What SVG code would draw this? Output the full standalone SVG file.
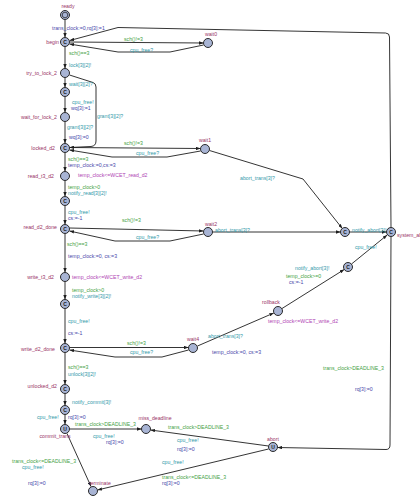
<svg xmlns="http://www.w3.org/2000/svg" width="420" height="502" viewBox="0 0 420 502">
<style>
  text { font-family: "Liberation Sans", Arial, sans-serif; font-size: 5.2px; }
  .nm { fill: #993366; }
  .g { fill: #3f9f3f; }
  .s { fill: #3399aa; }
  .a { fill: #4848aa; }
  .inv { fill: #b044b4; }
  .loc { fill: #a8b4d4; stroke: #2a2a2a; stroke-width: 1; }
  .in { fill: none; stroke: #2a2a2a; stroke-width: 0.8; }
  .k { font-size: 5px; fill: #1a1a1a; text-anchor: middle; font-weight: bold; }
  .e { fill: none; stroke: #1e1e1e; stroke-width: 0.9; marker-end: url(#ah); }
  .r { text-anchor: end; }
  .c { text-anchor: middle; }
</style>
<defs>
  <marker id="ah" viewBox="0 0 8 6" refX="8" refY="3" markerWidth="4.5" markerHeight="3.4" orient="auto" markerUnits="userSpaceOnUse">
    <path d="M0,0 L8,3 L0,6 z" fill="#1e1e1e"/>
  </marker>
</defs>
<rect width="420" height="502" fill="#ffffff"/>

<g id="edges">
  <path class="e" d="M65,19.5 L65,37.5"/>
  <path class="e" d="M69.5,42 L203.5,43"/>
  <path class="e" d="M203.5,45 L170,52 L118,52 L69.5,44"/>
  <path class="e" d="M391,227.5 L389.5,37 Q389.5,33 385.5,33 L118,27.5 L69.8,40.5"/>
  <path class="e" d="M65,46.5 L65,68.5"/>
  <path class="e" d="M65,77.5 L65,87.5"/>
  <path class="e" d="M69.5,75 L93,82.5 Q96,83.5 96,87 L96,141 Q96,146 91,146.5 L69.5,147.5"/>
  <path class="e" d="M65,96.5 L65,112.5"/>
  <path class="e" d="M65,121.5 L65,143.5"/>
  <path class="e" d="M69.5,147.5 L200.5,148.5"/>
  <path class="e" d="M200.5,151 L167,157 L112,157 L69.5,150"/>
  <path class="e" d="M65,152.5 L65,171.5"/>
  <path class="e" d="M65,180.5 L65,196.5"/>
  <path class="e" d="M65,205.5 L65,224.5"/>
  <path class="e" d="M69.5,228 L203.5,231"/>
  <path class="e" d="M203.5,234 L170,241 L115,241 L69.5,231"/>
  <path class="e" d="M65,233.5 L65,272.5"/>
  <path class="e" d="M65,281.5 L65,299.5"/>
  <path class="e" d="M65,308.5 L65,343.5"/>
  <path class="e" d="M69.5,347.5 L188.5,347.5"/>
  <path class="e" d="M188.5,350 L162,357 L115,357 L69.5,350"/>
  <path class="e" d="M65,352.5 L65,384.5"/>
  <path class="e" d="M65,393.5 L65,405.5"/>
  <path class="e" d="M65,414.5 L65,424.5"/>
  <path class="e" d="M69.5,429 L141.5,429"/>
  <path class="e" d="M67,433.5 L91,486.5"/>
  <path class="e" d="M268.5,446 L150.5,430"/>
  <path class="e" d="M268.5,449 L97.5,490"/>
  <path class="e" d="M391,236.5 L390,445 Q390,449.5 386,449.5 L277.5,447.5"/>
  <path class="e" d="M209.5,150.5 L303,179 L342.3,228.5"/>
  <path class="e" d="M212.5,232 L340.5,232"/>
  <path class="e" d="M349.5,232 L386.5,232"/>
  <path class="e" d="M351.5,264 L387.2,235"/>
  <path class="e" d="M282,308.5 L344.2,269.5"/>
  <path class="e" d="M197.5,346 L273.8,313"/>
</g>

<g id="edge-labels">
  <text class="a" x="52" y="30">trans_clock:=0,rq[3]:=1</text>
  <text class="g" x="124" y="41">sch()!=3</text>
  <text class="s" x="130" y="51.5">cpu_free?</text>
  <text class="g" x="69" y="55">sch()==3</text>
  <text class="s" x="69" y="67">lock[3][2]!</text>
  <text class="s" x="69" y="86">wait[3][2]?</text>
  <text class="s" x="72" y="104">cpu_free!</text>
  <text class="a" x="71" y="110">wq[3]:=1</text>
  <text class="s" x="97" y="118">grant[3][2]?</text>
  <text class="s" x="67" y="129">grant[3][2]?</text>
  <text class="a" x="69" y="139">wq[3]:=0</text>
  <text class="g" x="124" y="145">sch()!=3</text>
  <text class="s" x="136" y="155">cpu_free?</text>
  <text class="g" x="68" y="161">sch()==3</text>
  <text class="a" x="68" y="166.5">temp_clock:=0,cs:=3</text>
  <text class="g" x="68" y="189">temp_clock&gt;0</text>
  <text class="s" x="68" y="195">notify_read[3][2]!</text>
  <text class="s" x="68" y="214">cpu_free!</text>
  <text class="a" x="68" y="220">cs:=-1</text>
  <text class="g" x="122" y="222">sch()!=3</text>
  <text class="s" x="136" y="239">cpu_free?</text>
  <text class="s" x="240" y="180">abort_trans[3]?</text>
  <text class="s" x="215" y="231.5">abort_trans[3]?</text>
  <text class="s" x="352" y="231.5">notify_abort[3]!</text>
  <text class="s" x="355" y="249">cpu_free!</text>
  <text class="g" x="67" y="246">sch()==3</text>
  <text class="a" x="68" y="258">temp_clock:=0, cs:=3</text>
  <text class="g" x="72" y="292">temp_clock&gt;0</text>
  <text class="s" x="72" y="297.5">notify_write[3][2]!</text>
  <text class="s" x="68" y="323">cpu_free!</text>
  <text class="a" x="68" y="335">cs:=-1</text>
  <text class="g" x="127" y="345">sch()!=3</text>
  <text class="s" x="130" y="354">cpu_free?</text>
  <text class="g" x="68" y="369">sch()==3</text>
  <text class="s" x="68" y="376">unlock[3][2]!</text>
  <text class="s" x="208" y="338">abort_trans[3]?</text>
  <text class="a" x="212" y="354">temp_clock:=0, cs:=3</text>
  <text class="s" x="295" y="269.5">notify_abort[3]!</text>
  <text class="g" x="286" y="278">temp_clock&gt;=0</text>
  <text class="a" x="289" y="284">cs:=-1</text>
  <text class="s" x="72" y="404">notify_commit[3]!</text>
  <text class="s" x="37" y="419">cpu_free!</text>
  <text class="a" x="68" y="419">rq[3]:=0</text>
  <text class="g" x="75" y="426">trans_clock&gt;DEADLINE_3</text>
  <text class="s" x="93" y="438">cpu_free!</text>
  <text class="a" x="106" y="443.5">rq[3]:=0</text>
  <text class="g" x="168" y="429">trans_clock&gt;DEADLINE_3</text>
  <text class="s" x="177" y="442">cpu_free!</text>
  <text class="a" x="177" y="451">rq[3]:=0</text>
  <text class="g" x="12" y="463">trans_clock&lt;=DEADLINE_3</text>
  <text class="s" x="22" y="469">cpu_free!</text>
  <text class="a" x="28" y="485">rq[3]:=0</text>
  <text class="s" x="162" y="464">cpu_free!</text>
  <text class="g" x="162" y="479">trans_clock&lt;=DEADLINE_3</text>
  <text class="a" x="162" y="485">rq[3]:=0</text>
  <text class="g" x="323" y="370">trans_clock&gt;DEADLINE_3</text>
  <text class="a" x="355" y="391">rq[3]:=0</text>
</g>

<g id="ready"><circle class="loc" cx="65" cy="15" r="4.5"/><circle class="in" cx="65" cy="15" r="2.8"/><text class="nm c" x="68" y="8">ready</text></g>
<g id="begin"><circle class="loc" cx="65" cy="42" r="4.5"/><text class="k" x="65" y="43.8">C</text><text class="nm r" x="59" y="44">begin</text></g>
<g id="wait0"><circle class="loc" cx="208" cy="43" r="4.5"/><text class="nm c" x="211" y="36">wait0</text></g>
<g id="try_to_lock_2"><circle class="loc" cx="65" cy="73" r="4.5"/><text class="nm r" x="57" y="75">try_to_lock_2</text></g>
<g id="pre_wait"><circle class="loc" cx="65" cy="92" r="4.5"/><text class="k" x="65" y="93.8">C</text></g>
<g id="wait_for_lock_2"><circle class="loc" cx="65" cy="117" r="4.5"/><text class="nm r" x="57" y="119">wait_for_lock_2</text></g>
<g id="locked_d2"><circle class="loc" cx="65" cy="148" r="4.5"/><text class="k" x="65" y="149.8">C</text><text class="nm r" x="55" y="150">locked_d2</text></g>
<g id="wait1"><circle class="loc" cx="205" cy="149" r="4.5"/><text class="nm c" x="205" y="142">wait1</text></g>
<g id="read_t3_d2"><circle class="loc" cx="65" cy="176" r="4.5"/><text class="nm r" x="54" y="178">read_t3_d2</text><text class="inv" x="78" y="176.5">temp_clock&lt;=WCET_read_d2</text></g>
<g id="read_notify"><circle class="loc" cx="65" cy="201" r="4.5"/><text class="k" x="65" y="202.8">C</text></g>
<g id="read_d2_done"><circle class="loc" cx="65" cy="229" r="4.5"/><text class="k" x="65" y="230.8">C</text><text class="nm r" x="57" y="229">read_d2_done</text></g>
<g id="wait2"><circle class="loc" cx="208" cy="232" r="4.5"/><text class="nm c" x="211" y="225.5">wait2</text></g>
<g id="notify_abort"><circle class="loc" cx="345" cy="232" r="4.5"/><text class="k" x="345" y="233.8">C</text></g>
<g id="system_abort"><circle class="loc" cx="391" cy="232" r="4.5"/><text class="k" x="391" y="233.8">C</text><text class="nm" x="397" y="237">system_abort</text></g>
<g id="write_t3_d2"><circle class="loc" cx="65" cy="277" r="4.5"/><text class="nm r" x="54" y="279">write_t3_d2</text><text class="inv" x="72" y="279">temp_clock&lt;=WCET_write_d2</text></g>
<g id="write_notify"><circle class="loc" cx="65" cy="304" r="4.5"/><text class="k" x="65" y="305.8">C</text></g>
<g id="write_d2_done"><circle class="loc" cx="65" cy="348" r="4.5"/><text class="k" x="65" y="349.8">C</text><text class="nm r" x="55" y="350.5">write_d2_done</text></g>
<g id="wait4"><circle class="loc" cx="193" cy="348" r="4.5"/><text class="nm c" x="193" y="341">wait4</text></g>
<g id="rollback"><circle class="loc" cx="278" cy="311" r="4.5"/><text class="nm c" x="271" y="304">rollback</text><text class="inv" x="268" y="323">temp_clock&lt;=WCET_write_d2</text></g>
<g id="rollback_notify"><circle class="loc" cx="348" cy="267" r="4.5"/><text class="k" x="348" y="268.8">C</text></g>
<g id="unlocked_d2"><circle class="loc" cx="65" cy="389" r="4.5"/><text class="k" x="65" y="390.8">C</text><text class="nm r" x="57" y="388">unlocked_d2</text></g>
<g id="commit_notify"><circle class="loc" cx="65" cy="410" r="4.5"/><text class="k" x="65" y="411.8">C</text></g>
<g id="commit_trans"><circle class="loc" cx="65" cy="429" r="4.5"/><text class="k" x="65" y="430.8">U</text><text class="nm c" x="55" y="437.5">commit_trans</text></g>
<g id="miss_deadline"><circle class="loc" cx="146" cy="429" r="4.5"/><text class="nm c" x="155" y="420">miss_deadline</text></g>
<g id="abort"><circle class="loc" cx="273" cy="447" r="4.5"/><text class="k" x="273" y="448.8">U</text><text class="nm c" x="273" y="441">abort</text></g>
<g id="terminate"><circle class="loc" cx="93" cy="491" r="4.5"/><text class="nm c" x="100" y="485">terminate</text></g>
</svg>
